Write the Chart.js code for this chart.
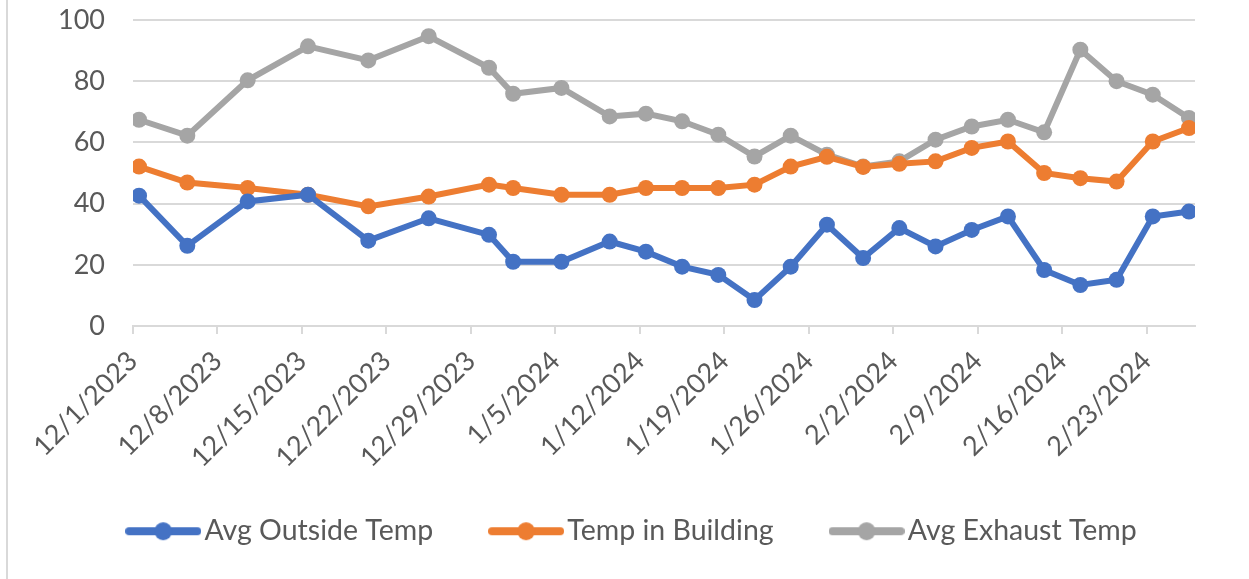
<!DOCTYPE html>
<html>
<head>
<meta charset="utf-8">
<script src="https://cdn.jsdelivr.net/npm/chart.js@4.4.1/dist/chart.umd.min.js"></script>
<style>
    html, body { margin: 0; padding: 0; background: #fff; }
    #wrap { position: relative; width: 1249px; height: 579px; }
    #frame { position: absolute; left: 6px; top: 0; width: 2px; height: 579px; background: #d9d9d9; }
</style>
</head>
<body>
<div id="wrap">
    <div id="frame"></div>
    <canvas id="tempChart" width="1249" height="579"></canvas>
</div>
<script>
// Datas das leituras
const dates = [
    '12/1/2023', '12/5/2023', '12/10/2023', '12/15/2023', '12/20/2023', '12/25/2023',
    '12/30/2023', '1/1/2024', '1/5/2024', '1/9/2024', '1/12/2024', '1/15/2024',
    '1/18/2024', '1/21/2024', '1/24/2024', '1/27/2024', '1/30/2024', '2/2/2024',
    '2/5/2024', '2/8/2024', '2/11/2024', '2/14/2024', '2/17/2024', '2/20/2024',
    '2/23/2024', '2/26/2024'
];

const outsideTemp = [
    42.6, 26.2, 40.7, 42.9, 27.9, 35.2, 29.8, 21.0, 21.0, 27.6, 24.3, 19.4, 16.7,
    8.5, 19.4, 33.1, 22.2, 32.0, 26.0, 31.4, 35.8, 18.3, 13.4, 15.1, 35.8, 37.4
];
const buildingTemp = [
    52.1, 46.9, 45.1, 42.9, 39.1, 42.3, 46.2, 45.1, 42.9, 42.9, 45.1, 45.1, 45.1,
    46.2, 52.1, 55.3, 52.0, 53.0, 53.8, 58.2, 60.3, 50.0, 48.3, 47.2, 60.3, 64.7
];
const exhaustTemp = [
    67.4, 62.2, 80.3, 91.4, 86.8, 94.7, 84.4, 75.9, 77.8, 68.5, 69.4, 66.9, 62.5,
    55.4, 62.2, 56.0, 52.1, 53.8, 60.9, 65.2, 67.4, 63.3, 90.3, 80.0, 75.6, 68.0
];

const seriesNames = ['Avg Outside Temp', 'Temp in Building', 'Avg Exhaust Temp'];
const seriesColors = ['#4472C4', '#ED7D31', '#A5A5A5'];
const yTicks = [0, 20, 40, 60, 80, 100];
const axisStart = '12/1/2023';

const textColor = '#595959';
const gridColor = '#d9d9d9';
const fontFamily = 'Lato, "Open Sans", sans-serif';

function toDate(s) {
    const [m, d, y] = s.split('/').map(Number);
    return Date.UTC(y, m - 1, d);
}
function dayIndex(s) {
    return Math.round((toDate(s) - toDate(axisStart)) / 86400000);
}
function formatDay(n) {
    const d = new Date(toDate(axisStart) + n * 86400000);
    return (d.getUTCMonth() + 1) + '/' + d.getUTCDate() + '/' + d.getUTCFullYear();
}

// Eixo de datas do Excel: pontos no meio do dia (entre as marcas)
const xDays = dates.map(s => dayIndex(s) + 0.5);
const xMax = dayIndex(dates[dates.length - 1]) + 1;

function legendMarker(color) {
    const c = document.createElement('canvas');
    c.width = 76;
    c.height = 22;
    const g = c.getContext('2d');
    g.strokeStyle = color;
    g.lineWidth = 8;
    g.lineCap = 'round';
    g.beginPath();
    g.moveTo(4, 11);
    g.lineTo(72, 11);
    g.stroke();
    g.fillStyle = color;
    g.beginPath();
    g.arc(38, 11, 9, 0, Math.PI * 2);
    g.fill();
    return c;
}

const seriesValues = [outsideTemp, buildingTemp, exhaustTemp];
const datasets = seriesValues.map((vals, i) => ({
    label: seriesNames[i],
    data: vals.map((v, j) => ({ x: xDays[j], y: v })),
    borderColor: seriesColors[i],
    backgroundColor: seriesColors[i],
    borderWidth: 6,
    pointRadius: 8,
    pointHoverRadius: 8,
    pointBorderWidth: 0,
    pointStyle: 'circle',
    tension: 0,
    legendMarker: legendMarker(seriesColors[i])
}));

// Altura fixa da legenda e posição ajustada (igual ao Excel)
const legendPlacement = {
    id: 'legendPlacement',
    beforeInit: function(chart) {
        const fit = chart.legend.fit;
        chart.legend.fit = function() {
            fit.bind(chart.legend)();
            this.height = 109;
        };
    },
    afterLayout: function(chart) {
        const lg = chart.legend;
        lg.left += 39;
        lg.right += 39;
        lg.top -= 19;
        lg.bottom -= 19;
    }
};

const ctx = document.getElementById('tempChart').getContext('2d');
const tempChart = new Chart(ctx, {
    type: 'line',
    data: { datasets: datasets },
    plugins: [legendPlacement],
    options: {
        responsive: false,
        animation: false,
        layout: {
            padding: { top: 20, right: 54, bottom: 0, left: 0 }
        },
        plugins: {
            legend: {
                position: 'bottom',
                labels: {
                    color: textColor,
                    font: { family: fontFamily, size: 28.5 },
                    usePointStyle: true,
                    pointStyleWidth: 54,
                    padding: 66,
                    generateLabels: function(chart) {
                        return chart.data.datasets.map((ds, i) => ({
                            text: ds.label,
                            fontColor: textColor,
                            pointStyle: ds.legendMarker,
                            lineWidth: 0,
                            strokeStyle: 'transparent',
                            fillStyle: ds.borderColor,
                            hidden: false,
                            datasetIndex: i
                        }));
                    }
                }
            },
            tooltip: { enabled: false }
        },
        scales: {
            x: {
                type: 'linear',
                min: 0,
                max: xMax,
                afterFit: function(scale) {
                    scale.height = 144;
                    scale.paddingLeft = 0;
                    scale.paddingRight = 0;
                },
                grid: {
                    drawOnChartArea: false,
                    color: gridColor,
                    lineWidth: 2,
                    tickLength: 8
                },
                border: { color: gridColor, width: 2 },
                ticks: {
                    stepSize: 7,
                    includeBounds: false,
                    autoSkip: false,
                    maxRotation: 45,
                    minRotation: 45,
                    padding: 11,
                    color: textColor,
                    font: { family: fontFamily, size: 27 },
                    callback: function(value) {
                        return formatDay(value);
                    }
                }
            },
            y: {
                min: 0,
                max: 100,
                afterFit: function(scale) {
                    scale.width = 133;
                    scale.paddingTop = 0;
                    scale.paddingBottom = 0;
                },
                afterBuildTicks: function(scale) {
                    scale.ticks = yTicks.map(v => ({ value: v }));
                },
                grid: {
                    color: gridColor,
                    lineWidth: 2,
                    drawTicks: false
                },
                border: { display: false },
                ticks: {
                    padding: 28,
                    color: textColor,
                    font: { family: fontFamily, size: 27 }
                }
            }
        }
    }
});
</script>
</body>
</html>
